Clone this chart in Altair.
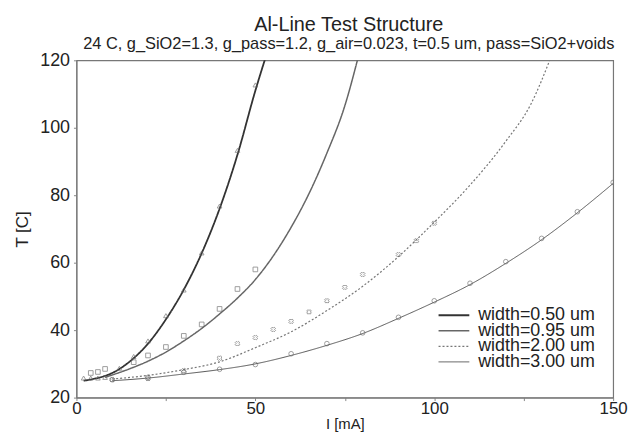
import altair as alt
import pandas as pd

series_names = ["width=0.50 um", "width=0.95 um", "width=2.00 um", "width=3.00 um"]
marker_shapes = ["triangle-up", "square", "cross", "circle"]
line_colors = ["#333333", "#666666", "#777777", "#444444"]
line_dashes = [[1, 0], [1, 0], [2, 2], [1, 0]]
line_widths = [1.8, 0.9, 1.4, 1.5]

# fitted curves
c050_x = [2, 5, 10, 15, 20, 25, 30, 35, 40, 45, 50, 53.5]
c050_t = [25.0, 25.6, 27.3, 30.8, 36.0, 43.2, 52.0, 62.8, 76.0, 92.0, 111.0, 123.0]
c095_x = [8, 15, 20, 25, 30, 35, 40, 45, 50, 55, 60, 65, 70, 75, 79]
c095_t = [26.0, 28.6, 30.8, 33.5, 36.8, 40.5, 44.8, 49.5, 55.0, 62.0, 70.5, 80.5, 92.5, 106.5, 122.0]
c200_x = [10, 20, 30, 40, 50, 60, 70, 80, 90, 100, 110, 120, 127, 133]
c200_t = [25.5, 26.6, 28.3, 30.6, 34.8, 39.5, 45.8, 53.0, 61.8, 72.0, 83.0, 96.0, 107.0, 122.0]
c300_x = [10, 20, 30, 40, 50, 60, 70, 80, 90, 100, 110, 120, 130, 140, 150]
c300_t = [25.0, 25.8, 27.0, 28.3, 30.0, 32.5, 35.5, 39.0, 43.5, 48.3, 53.5, 59.8, 66.8, 74.8, 83.5]

# measured points
m050_x = [2, 4, 6, 8, 12, 16, 20, 25, 30, 35, 40, 45, 50]
m050_t = [25.8, 25.8, 25.8, 26.0, 28.7, 32.2, 36.8, 44.3, 51.9, 62.9, 76.8, 93.3, 112.7]
m095_x = [4, 6, 8, 16, 20, 25, 30, 35, 40, 45, 50]
m095_t = [27.3, 27.6, 28.5, 30.5, 32.5, 35.0, 38.3, 41.7, 46.3, 52.2, 58.0]
m200_x = [10, 20, 30, 40, 45, 50, 55, 60, 65, 70, 75, 80, 90, 95, 100]
m200_t = [25.3, 25.6, 28.0, 31.7, 36.0, 37.8, 40.2, 42.6, 45.4, 48.7, 52.7, 56.5, 62.4, 66.5, 71.7]
m300_x = [10, 20, 30, 40, 50, 60, 70, 80, 90, 100, 110, 120, 130, 140, 150]
m300_t = [25.3, 26.0, 27.5, 28.4, 29.8, 33.0, 36.0, 39.2, 43.8, 48.7, 53.9, 60.3, 67.2, 75.1, 83.8]

x_ticks = [0, 25, 50, 75, 100, 125, 150]
y_ticks = [20, 30, 40, 50, 60, 70, 80, 90, 100, 110, 120]

curves = pd.concat([
    pd.DataFrame({"I": xs, "T": ts, "s": name})
    for xs, ts, name in zip([c050_x, c095_x, c200_x, c300_x],
                            [c050_t, c095_t, c200_t, c300_t], series_names)
])
mark_sets = [pd.DataFrame({"I": xs, "T": ts})
             for xs, ts in zip([m050_x, m095_x, m200_x, m300_x],
                               [m050_t, m095_t, m200_t, m300_t])]
legend_df = pd.DataFrame({"s": series_names})

xscale = alt.Scale(domain=[0, 150], nice=False, zero=False)
yscale = alt.Scale(domain=[20, 120], nice=False, zero=False)

xaxis = alt.Axis(values=x_ticks, labelExpr="datum.value % 50 == 0 ? datum.label : ''",
                 title="I [mA]", grid=False, labelFontSize=17, tickSize=3,
                 labelPadding=0, titlePadding=0, titleFontSize=15, labelFlush=False)
yaxis = alt.Axis(values=y_ticks, labelExpr="datum.value % 20 == 0 ? datum.label : ''",
                 title="T [C]", grid=False, labelFontSize=18, tickSize=3,
                 labelPadding=4, titlePadding=8, titleFontSize=17)

color_enc = alt.Color("s:N", scale=alt.Scale(domain=series_names, range=line_colors), legend=None)
dash_enc = alt.StrokeDash("s:N", scale=alt.Scale(domain=series_names, range=line_dashes), legend=None)
width_enc = alt.StrokeWidth("s:N", scale=alt.Scale(domain=series_names, range=line_widths), legend=None)

lines = alt.Chart(curves).mark_line(clip=True, interpolate="monotone").encode(
    x=alt.X("I:Q", scale=xscale, axis=xaxis),
    y=alt.Y("T:Q", scale=yscale, axis=yaxis),
    color=color_enc, strokeDash=dash_enc, strokeWidth=width_enc,
)

point_layers = []
for df, shp in zip(mark_sets, marker_shapes):
    point_layers.append(
        alt.Chart(df).mark_point(clip=True, filled=False, size=22, strokeWidth=0.9,
                                 shape=shp, color="#666666",
                                 angle=45 if shp == "cross" else 0).encode(
            x=alt.X("I:Q", scale=xscale),
            y=alt.Y("T:Q", scale=yscale),
        )
    )

main = alt.layer(lines, *point_layers)

# legend drawn inside the plot, lower right
leg_y = alt.Y("s:N", scale=alt.Scale(type="point", domain=series_names,
                                     range=[257, 304], padding=0), axis=None)
leg_rules = alt.Chart(legend_df).mark_rule().encode(
    x=alt.value(365), x2=alt.value(396), y=leg_y,
    color=color_enc, strokeDash=dash_enc, strokeWidth=width_enc,
)
leg_text = alt.Chart(legend_df).mark_text(
    align="left", baseline="middle", fontSize=18, font="Liberation Sans", color="#222222"
).encode(x=alt.value(405), y=leg_y, text="s:N")
legend_layer = alt.layer(leg_rules, leg_text)

chart = alt.layer(main, legend_layer).resolve_scale(y="independent").properties(
    width=541, height=340,
    title=alt.TitleParams(
        text="Al-Line Test Structure",
        subtitle="24 C, g_SiO2=1.3, g_pass=1.2, g_air=0.023, t=0.5 um, pass=SiO2+voids",
        font="Liberation Sans", fontSize=20, fontWeight="normal", color="#222",
        subtitleFont="Liberation Sans", subtitleFontSize=16.5, subtitleColor="#222",
        subtitlePadding=1, offset=-1, anchor="middle", frame="group", dx=4,
    ),
).configure_view(stroke="#777777", strokeWidth=1.2).configure_axis(
    labelFont="Liberation Sans", labelColor="#222",
    titleFont="Liberation Sans", titleFontWeight="normal", titleColor="#222",
    domainColor="#777777", tickColor="#888888",
)

chart.save("out.html", embed_options={"renderer": "svg", "actions": False})
